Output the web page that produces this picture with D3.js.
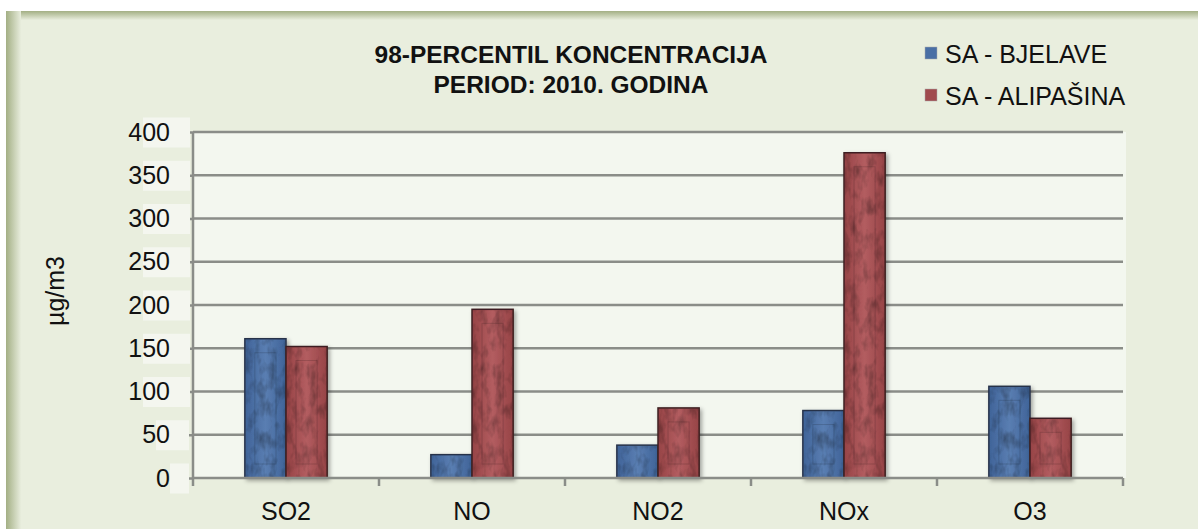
<!DOCTYPE html>
<html>
<head>
<meta charset="utf-8">
<script src="https://cdn.jsdelivr.net/npm/d3@7"></script>
<style>
  body { margin: 0; background: #fff; }
  svg { display: block; font-family: "Liberation Sans", Arial, sans-serif; }
</style>
</head>
<body>
<script>
var categories = ["SO2", "NO", "NO2", "NOx", "O3"];
var seriesNames = ["SA - BJELAVE", "SA - ALIPAŠINA"];
var bjelave = [161, 27, 38, 78, 106];
var alipasina = [152, 195, 81, 376, 69];
var yTicks = [0, 50, 100, 150, 200, 250, 300, 350, 400];
var titleLines = ["98-PERCENTIL KONCENTRACIJA", "PERIOD: 2010. GODINA"];

var main = function() {
  var W = 1198, H = 529;
  var margin = {top: 132, left: 193, right: 75, bottom: 51};
  var width = W - margin.left - margin.right,
      height = H - margin.top - margin.bottom;
  var fs = 25;

  var svg = d3.select("body").append("svg")
    .attr("width", W)
    .attr("height", H);

  var defs = svg.append("defs");

  // frame gradients
  var lg = defs.append("linearGradient").attr("id", "leftEdge").attr("x1", 0).attr("x2", 1).attr("y1", 0).attr("y2", 0);
  lg.append("stop").attr("offset", 0).attr("stop-color", "#a3af84");
  lg.append("stop").attr("offset", 1).attr("stop-color", "#e8eddd");
  var tg = defs.append("linearGradient").attr("id", "topEdge").attr("x1", 0).attr("x2", 0).attr("y1", 0).attr("y2", 1);
  tg.append("stop").attr("offset", 0).attr("stop-color", "#a3af84");
  tg.append("stop").attr("offset", 1).attr("stop-color", "#e8eddd");

  var colors = [
    {id: "gBlue", c0: "#5a7eb2", c1: "#3f6398", stroke: "#27334a", legend: "#4a6fa5"},
    {id: "gRed", c0: "#b35d60", c1: "#964346", stroke: "#3d1f20", legend: "#a04a4d"}
  ];
  colors.forEach(function(c) {
    var g = defs.append("linearGradient").attr("id", c.id).attr("x1", 0).attr("x2", 1).attr("y1", 0).attr("y2", 0);
    g.append("stop").attr("offset", 0).attr("stop-color", c.c1);
    g.append("stop").attr("offset", 0.5).attr("stop-color", c.c0);
    g.append("stop").attr("offset", 1).attr("stop-color", c.c1);
  });

  var shadow = defs.append("filter").attr("id", "shadow").attr("x", "-20%").attr("y", "-20%").attr("width", "150%").attr("height", "150%");
  shadow.append("feDropShadow").attr("dx", 2).attr("dy", 2).attr("stdDeviation", 2).attr("flood-color", "#000").attr("flood-opacity", 0.35);

  // mottled texture for bars
  var tex = defs.append("filter").attr("id", "tex").attr("x", 0).attr("y", 0).attr("width", 1).attr("height", 1);
  tex.append("feTurbulence").attr("type", "fractalNoise").attr("baseFrequency", "0.12 0.06").attr("numOctaves", 3).attr("seed", 4).attr("result", "noise");
  tex.append("feColorMatrix").attr("in", "noise").attr("type", "matrix")
    .attr("values", "0 0 0 0 0  0 0 0 0 0  0 0 0 0 0  2.2 0 0 0 -0.95").attr("result", "dark");
  tex.append("feComposite").attr("in", "dark").attr("in2", "SourceGraphic").attr("operator", "in");

  // chart frame
  svg.append("rect").attr("x", 6).attr("y", 11).attr("width", W - 6).attr("height", H - 11).attr("fill", "#e9eede");
  svg.append("rect").attr("x", 6).attr("y", 11).attr("width", W - 6).attr("height", 9).attr("fill", "url(#topEdge)");
  svg.append("rect").attr("x", 6).attr("y", 11).attr("width", 15).attr("height", H - 11).attr("fill", "url(#leftEdge)");

  var g = svg.append("g").attr("transform", "translate(" + margin.left + "," + margin.top + ")");

  // plot area
  g.append("rect").attr("x", 0).attr("y", 0).attr("width", width + 3).attr("height", height)
    .attr("fill", "#f3f7ef");

  var x0 = d3.scaleBand().domain(categories).range([0, width]);
  var x1 = d3.scaleBand().domain([0, 1]).range([0, x0.bandwidth()]).paddingOuter(1.26);
  var y = d3.scaleLinear().domain([0, 400]).range([height, 0]);

  // gridlines
  g.append("g").selectAll("line").data(yTicks.slice(1)).enter().append("line")
    .attr("x1", 0).attr("x2", width)
    .attr("y1", function(d) { return y(d); }).attr("y2", function(d) { return y(d); })
    .attr("stroke", "#8a8d88").attr("stroke-width", 2.5);

  // bars
  var data = categories.map(function(c, i) { return {cat: c, vals: [bjelave[i], alipasina[i]]}; });
  var groups = g.append("g").selectAll("g").data(data).enter().append("g")
    .attr("transform", function(d) { return "translate(" + x0(d.cat) + ",0)"; });

  var bars = groups.selectAll("g").data(function(d) { return d.vals.map(function(v, k) { return {v: v, k: k}; }); })
    .enter().append("g");
  bars.append("rect")
    .attr("x", function(d) { return x1(d.k); })
    .attr("y", function(d) { return y(d.v); })
    .attr("width", x1.bandwidth())
    .attr("height", function(d) { return height - y(d.v); })
    .attr("fill", function(d) { return "url(#" + colors[d.k].id + ")"; })
    .attr("stroke", function(d) { return colors[d.k].stroke; })
    .attr("stroke-width", 1.5)
    .attr("filter", "url(#shadow)");
  bars.append("rect")
    .attr("x", function(d) { return x1(d.k) + 1; })
    .attr("y", function(d) { return y(d.v) + 1; })
    .attr("width", x1.bandwidth() - 2)
    .attr("height", function(d) { return height - y(d.v) - 2; })
    .attr("fill", "#1a1a2a")
    .attr("opacity", 0.3)
    .attr("filter", "url(#tex)");
  bars.filter(function(d) { return height - y(d.v) > 40; }).append("rect")
    .attr("x", function(d) { return x1(d.k) + 10; })
    .attr("y", function(d) { return y(d.v) + 14; })
    .attr("width", x1.bandwidth() - 20)
    .attr("height", function(d) { return height - y(d.v) - 28; })
    .attr("fill", "none")
    .attr("stroke", "rgba(0,0,0,0.15)")
    .attr("stroke-width", 1);

  // y axis
  var yAxis = g.append("g").call(d3.axisLeft(y).tickValues(yTicks).tickSize(7).tickPadding(16));
  yAxis.select(".domain").attr("stroke", "#8a8d88").attr("stroke-width", 2.5).attr("d", "M0," + height + "V0");
  yAxis.selectAll(".tick line").attr("stroke", "#8a8d88").attr("stroke-width", 2.5);
  yAxis.selectAll(".tick text").attr("font-size", fs).attr("fill", "#111").attr("font-family", "Liberation Sans, Arial, sans-serif");
  yAxis.selectAll(".tick").insert("rect", "text")
    .attr("x", -49).attr("y", -15).attr("width", 28).attr("height", 30)
    .attr("fill", "#f4f6ef");
  yAxis.selectAll(".tick rect").attr("x", function(d) { return d >= 100 ? -50 : (d >= 10 ? -37 : -23); })
    .attr("width", function(d) { return d >= 100 ? 47 : (d >= 10 ? 33 : 19); });

  // x axis
  var xAxis = g.append("g").attr("transform", "translate(0," + height + ")")
    .call(d3.axisBottom(x0).tickSize(0).tickPadding(24));
  xAxis.select(".domain").attr("stroke", "#8a8d88").attr("stroke-width", 2.5).attr("d", "M0,0H" + width);
  xAxis.selectAll(".tick text").attr("font-size", fs).attr("fill", "#111").attr("font-family", "Liberation Sans, Arial, sans-serif");
  xAxis.append("g").selectAll("line").data(d3.range(categories.length + 1)).enter().append("line")
    .attr("x1", function(i) { return i * x0.step(); }).attr("x2", function(i) { return i * x0.step(); })
    .attr("y1", 0).attr("y2", 8)
    .attr("stroke", "#8a8d88").attr("stroke-width", 2.5);

  // y label
  svg.append("text")
    .attr("transform", "translate(64,291) rotate(-90)")
    .attr("text-anchor", "middle")
    .attr("font-size", 25).attr("fill", "#111")
    .text("µg/m3");

  // title
  svg.append("g").selectAll("text").data(titleLines).enter().append("text")
    .attr("x", 571).attr("y", function(d, i) { return 63 + i * 30; })
    .attr("text-anchor", "middle")
    .attr("font-size", 24.5).attr("font-weight", "bold").attr("fill", "#111")
    .text(function(d) { return d; });

  // legend
  var legend = svg.append("g").selectAll("g").data(seriesNames).enter().append("g")
    .attr("transform", function(d, i) { return "translate(925," + (47 + i * 42) + ")"; });
  legend.append("rect").attr("width", 12).attr("height", 12)
    .attr("fill", function(d, i) { return colors[i].legend; })
    .attr("stroke", "#aaa").attr("stroke-width", 0.5);
  legend.append("text").attr("x", 20).attr("y", 16)
    .attr("font-size", fs).attr("fill", "#111")
    .text(function(d) { return d; });
};

main();
</script>
</body>
</html>
